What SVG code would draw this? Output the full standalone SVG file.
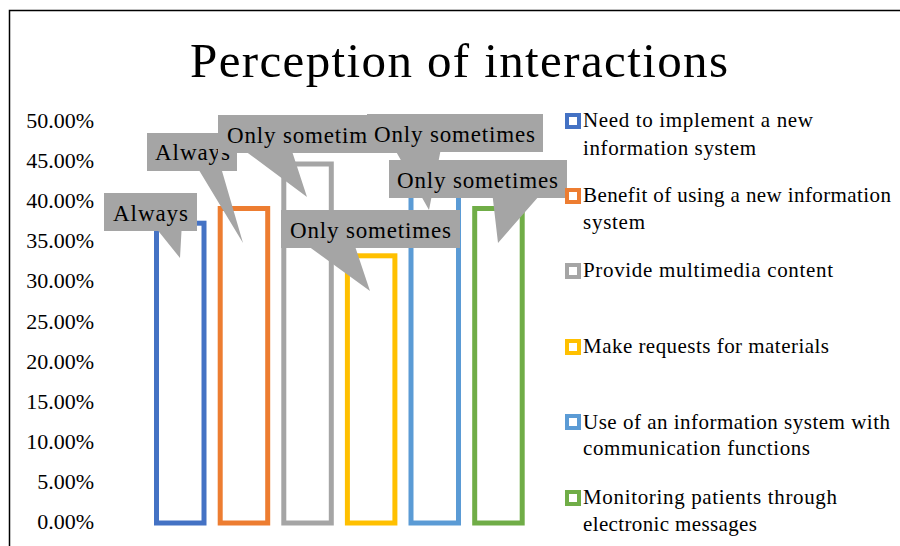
<svg xmlns="http://www.w3.org/2000/svg" width="900" height="546" viewBox="0 0 900 546">
<style>
text{font-family:"Liberation Serif","Times New Roman",serif;fill:#000}
.ax{font-size:22px;text-anchor:end}
.lg{font-size:21px}
.co{font-size:23px}
.bar{fill:none;stroke-width:5}
.call{fill:#A5A5A5}
.mk{fill:#fff;stroke-width:4}
</style>
<rect x="9.5" y="10.5" width="900" height="600" fill="#fff" stroke="#000" stroke-width="1.5"/>
<text x="459" y="77" font-size="49" text-anchor="middle" textLength="538" lengthAdjust="spacing">Perception of interactions</text>
<g id="axis">
<text class="ax" x="94" y="128">50.00%</text>
<text class="ax" x="94" y="168.1">45.00%</text>
<text class="ax" x="94" y="208.2">40.00%</text>
<text class="ax" x="94" y="248.3">35.00%</text>
<text class="ax" x="94" y="288.4">30.00%</text>
<text class="ax" x="94" y="328.5">25.00%</text>
<text class="ax" x="94" y="368.6">20.00%</text>
<text class="ax" x="94" y="408.7">15.00%</text>
<text class="ax" x="94" y="448.8">10.00%</text>
<text class="ax" x="94" y="488.9">5.00%</text>
<text class="ax" x="94" y="529">0.00%</text>
</g>
<g id="bars">
<rect class="bar" x="156.5" y="223.2" width="47.5" height="299.8" stroke="#4472C4"/>
<rect class="bar" x="220.2" y="208.5" width="47.5" height="314.5" stroke="#ED7D31"/>
<rect class="bar" x="283.8" y="164" width="47.5" height="359" stroke="#A5A5A5"/>
<rect class="bar" x="347.4" y="255.8" width="47.5" height="267.2" stroke="#FFC000"/>
<rect class="bar" x="411" y="187.5" width="47.5" height="335.5" stroke="#5B9BD5"/>
<rect class="bar" x="474.7" y="208.5" width="47.5" height="314.5" stroke="#70AD47"/>
</g>
<g id="callouts">
<g id="c1">
<path class="call" d="M104,193 H197 V231 H181.5 L180,258 L158.3,231 H104 Z"/>
<text class="co" x="113" y="221" textLength="75" lengthAdjust="spacing">Always</text>
</g>
<g id="c2">
<path class="call" d="M147,133 H237 V171 H222 L243,243 L199.5,171 H147 Z"/>
<text class="co" x="155" y="160" textLength="75" lengthAdjust="spacing">Always</text>
</g>
<g id="c3">
<path class="call" d="M218,115 H397 V153 H292.6 L307,197 L247.8,153 H218 Z"/>
<text class="co" x="227" y="142.5" textLength="161" lengthAdjust="spacing">Only sometimes</text>
</g>
<g id="c4">
<path class="call" d="M281,210 H460 V248 H355.6 L370,291 L310.8,248 H281 Z"/>
<text class="co" x="290" y="237.5" textLength="161" lengthAdjust="spacing">Only sometimes</text>
</g>
<g id="c5">
<path class="call" d="M367,114 H543 V152 H440.3 L429,210 L396.3,152 H367 Z"/>
<text class="co" x="374" y="141.5" textLength="161" lengthAdjust="spacing">Only sometimes</text>
</g>
<g id="c6">
<path class="call" d="M389,160 H567 V198 H537.3 L498,243 L492.8,198 H389 Z"/>
<text class="co" x="397" y="187.5" textLength="161" lengthAdjust="spacing">Only sometimes</text>
</g>
</g>
<g id="legend">
<g id="l1">
<rect class="mk" x="567" y="115" width="12" height="12" stroke="#4472C4"/>
<text class="lg" x="583" y="127" textLength="230" lengthAdjust="spacing">Need to implement a new</text>
<text class="lg" x="583" y="155" textLength="173" lengthAdjust="spacing">information system</text>
</g>
<g id="l2">
<rect class="mk" x="567" y="190" width="12" height="12" stroke="#ED7D31"/>
<text class="lg" x="583" y="202" textLength="308" lengthAdjust="spacing">Benefit of using a new information</text>
<text class="lg" x="583" y="229" textLength="62" lengthAdjust="spacing">system</text>
</g>
<g id="l3">
<rect class="mk" x="567" y="265" width="12" height="12" stroke="#A5A5A5"/>
<text class="lg" x="583" y="277" textLength="250" lengthAdjust="spacing">Provide multimedia content</text>
</g>
<g id="l4">
<rect class="mk" x="567" y="341" width="12" height="12" stroke="#FFC000"/>
<text class="lg" x="583" y="353" textLength="246" lengthAdjust="spacing">Make requests for materials</text>
</g>
<g id="l5">
<rect class="mk" x="567" y="416" width="12" height="12" stroke="#5B9BD5"/>
<text class="lg" x="583" y="428.5" textLength="307" lengthAdjust="spacing">Use of an information system with</text>
<text class="lg" x="583" y="455" textLength="227" lengthAdjust="spacing">communication functions</text>
</g>
<g id="l6">
<rect class="mk" x="567" y="492" width="12" height="12" stroke="#70AD47"/>
<text class="lg" x="583" y="504" textLength="254" lengthAdjust="spacing">Monitoring patients through</text>
<text class="lg" x="583" y="530.5" textLength="174" lengthAdjust="spacing">electronic messages</text>
</g>
</g>
</svg>
